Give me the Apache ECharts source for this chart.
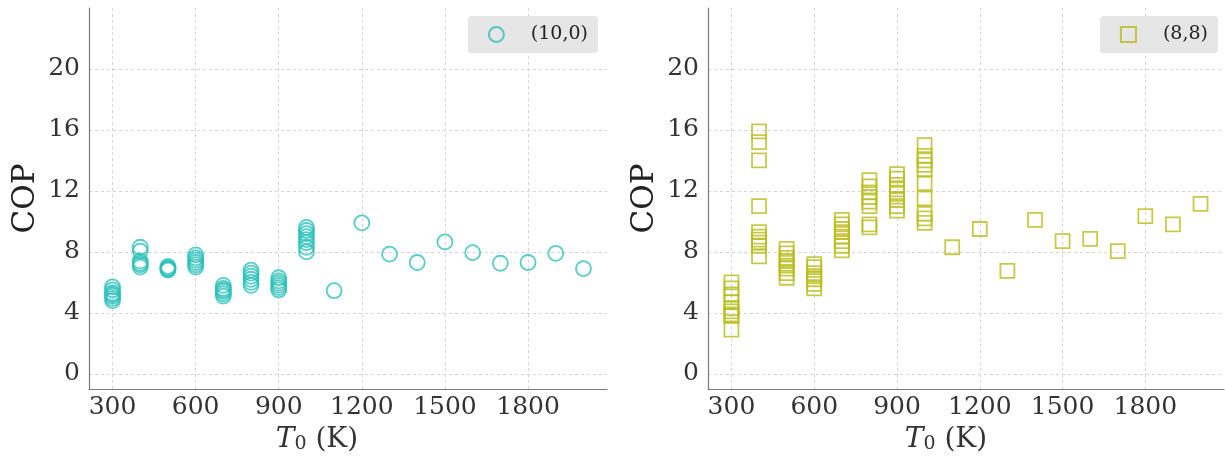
<!DOCTYPE html>
<html>
<head>
<meta charset="utf-8">
<script src="https://cdn.jsdelivr.net/npm/echarts@6/dist/echarts.min.js"></script>
<style>html,body{margin:0;padding:0;background:#fff;}#c{width:1225px;height:459px;}</style>
</head>
<body>
<div id="c"></div>
<script>
// ---- data ----
const xTicks = [300, 600, 900, 1200, 1500, 1800];
const yTicks = [0, 4, 8, 12, 16, 20];

const nameA = '(10,0)';
const tempA = [300,300,300,300,300,300,300,
  400,400,400,400,400,400,
  500,500,500,500,500,
  600,600,600,600,600,600,
  700,700,700,700,700,700,
  800,800,800,800,800,800,
  900,900,900,900,900,900,
  1000,1000,1000,1000,1000,1000,1000,1000,
  1100,1200,1300,1400,1500,1600,1700,1800,1900,2000];
const copA = [5.7,5.5,5.3,5.2,5.1,4.95,4.8,
  8.3,8.05,7.4,7.25,7.15,7.0,
  7.05,6.95,6.9,6.85,6.8,
  7.8,7.6,7.45,7.3,7.15,7.0,
  5.8,5.6,5.5,5.4,5.25,5.1,
  6.8,6.6,6.4,6.2,6.0,5.8,
  6.3,6.1,5.95,5.8,5.65,5.5,
  9.6,9.4,9.2,9.0,8.8,8.6,8.3,8.0,
  5.45,9.9,7.85,7.3,8.65,7.95,7.25,7.3,7.9,6.9];

const nameB = '(8,8)';
const tempB = [300,300,300,300,300,300,300,300,300,
  400,400,400,400,400,400,400,400,400,400,
  500,500,500,500,500,500,500,500,
  600,600,600,600,600,600,600,
  700,700,700,700,700,700,700,700,
  800,800,800,800,800,800,800,800,
  900,900,900,900,900,900,900,900,
  1000,1000,1000,1000,1000,1000,1000,1000,1000,1000,
  1100,1200,1300,1400,1500,1600,1700,1800,1900,2000];
const copB = [6.0,5.6,5.2,4.7,4.3,4.1,3.9,3.8,2.9,
  15.9,15.2,14.0,11.0,9.3,9.0,8.8,8.6,8.4,7.7,
  8.2,7.9,7.6,7.4,7.1,6.9,6.6,6.3,
  7.2,7.0,6.6,6.4,6.2,5.9,5.6,
  10.1,9.8,9.5,9.3,9.0,8.7,8.4,8.1,
  12.7,12.3,11.9,11.6,11.3,11.0,9.8,9.6,
  13.1,12.8,12.4,12.1,11.8,11.4,11.0,10.7,
  15.0,14.3,14.0,13.7,13.4,12.5,11.5,10.5,10.2,9.9,
  8.3,9.5,6.75,10.1,8.7,8.85,8.05,10.35,9.8,11.15];

// ---- chart ----
const FONT = 'DejaVu Serif';
const colA = '#2cc0ba';
const colB = '#b9bd1c';

function xAxisCfg(idx, padRight) {
  return {
    gridIndex: idx, type: 'value', min: 215, max: 2085,
    name: '{i|T}{s|0} (K)', nameLocation: 'middle', nameGap: 36,
    nameTextStyle: {
      fontFamily: FONT, fontSize: 28, color: '#333', padding: [0, padRight, 0, 0],
      rich: {
        i: { fontFamily: FONT, fontStyle: 'italic', fontSize: 28, color: '#333' },
        s: { fontFamily: FONT, fontSize: 19, color: '#333', verticalAlign: 'bottom', padding: [10, 0, 0, 0] }
      }
    },
    axisLine: { show: true, onZero: false, lineStyle: { color: '#7a7a7a', width: 1.2 } },
    axisTick: { show: false, customValues: xTicks },
    axisLabel: { customValues: xTicks, formatter: v => String(v), fontFamily: FONT, fontSize: 25, color: '#333', margin: 6 },
    splitLine: { show: true, lineStyle: { color: '#d4d4d4', type: [3, 3], width: 1 } }
  };
}
function yAxisCfg(idx) {
  return {
    gridIndex: idx, type: 'value', min: -1, max: 24,
    name: 'COP', nameLocation: 'middle', nameGap: 48,
    nameTextStyle: { fontFamily: FONT, fontSize: 31, color: '#222' },
    axisLine: { show: true, onZero: false, lineStyle: { color: '#7a7a7a', width: 1.2 } },
    axisTick: { show: false, customValues: yTicks },
    axisLabel: { customValues: yTicks, formatter: v => String(v), fontFamily: FONT, fontSize: 25, color: '#333', margin: 9 },
    splitLine: { show: true, lineStyle: { color: '#d4d4d4', type: [3, 3], width: 1 } }
  };
}
function legendCfg(right, name) {
  return {
    data: [name], right: right, top: 16,
    backgroundColor: '#e6e6e6', borderRadius: 4,
    padding: [9, 10, 9, 20],
    itemWidth: 15, itemHeight: 15,
    textStyle: { fontFamily: FONT, fontSize: 19, color: '#222', padding: [0, 0, 0, 22] }
  };
}

const chart = echarts.init(document.getElementById('c'), null, { renderer: 'canvas' });
chart.setOption({
  animation: false,
  backgroundColor: '#fff',
  grid: [
    { left: 89, top: 8, width: 518, height: 383 },
    { left: 708, top: 8, width: 516, height: 383 }
  ],
  xAxis: [xAxisCfg(0, 62), xAxisCfg(1, 40)],
  yAxis: [yAxisCfg(0), yAxisCfg(1)],
  legend: [legendCfg(627, nameA), legendCfg(7, nameB)],
  series: [
    {
      name: nameA, type: 'scatter', xAxisIndex: 0, yAxisIndex: 0,
      symbol: 'circle', symbolSize: 15,
      itemStyle: { color: 'rgba(0,0,0,0)', borderColor: colA, borderWidth: 1.8 },
      data: tempA.map((t, i) => [t, copA[i]])
    },
    {
      name: nameB, type: 'scatter', xAxisIndex: 1, yAxisIndex: 1,
      symbol: 'rect', symbolSize: 14,
      itemStyle: { color: 'rgba(0,0,0,0)', borderColor: colB, borderWidth: 1.8 },
      data: tempB.map((t, i) => [t, copB[i]])
    }
  ]
});
</script>
</body>
</html>
